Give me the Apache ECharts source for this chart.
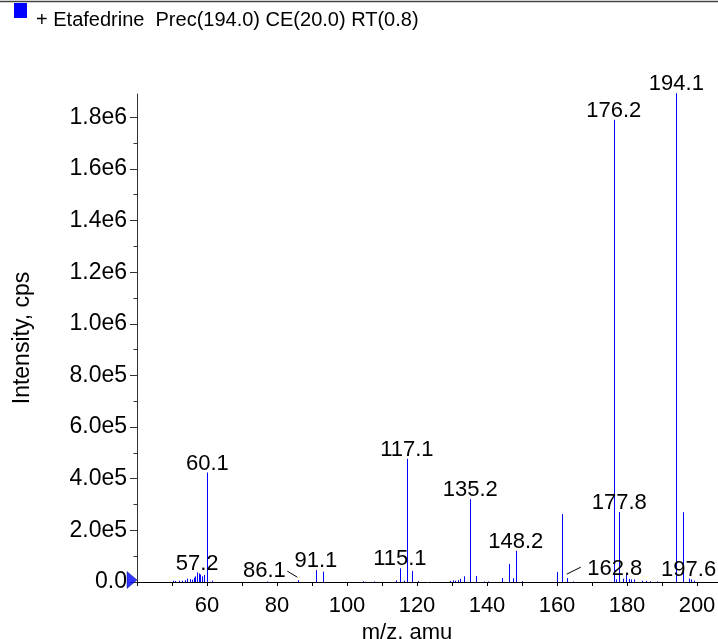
<!DOCTYPE html>
<html><head><meta charset="utf-8">
<script src="https://cdn.jsdelivr.net/npm/echarts@6/dist/echarts.min.js"></script>
<style>html,body{margin:0;padding:0;background:#fff}#c{width:718px;height:639px}</style>
</head><body><div id="c"></div>
<script>
const seriesName = '+ Etafedrine  Prec(194.0) CE(20.0) RT(0.8)';
const xTitle = 'm/z, amu';
const yTitle = 'Intensity, cps';

const mz = [50.4, 50.9, 51.9, 52.8, 53.7, 54.4, 55.1, 55.6, 56.2, 56.7, 57.2, 57.6, 58.1, 58.6, 59.1, 60.1, 61.3,
  77.1, 86.1, 91.1, 93.0, 104.7, 107.6, 114.1, 115.1, 116.3, 117.1, 118.5, 120.2,
  129.3, 130.2, 130.9, 131.7, 132.4, 133.3, 135.2, 136.9, 139.0, 140.2, 144.2, 146.3, 147.3, 148.2, 150.0,
  160.1, 161.3, 162.8, 164.5, 176.2, 176.9, 177.8, 178.9, 179.8, 180.5, 181.2, 181.9, 184.3, 185.5, 186.7, 188.5,
  194.1, 195.9, 197.6, 198.3, 199.0];
const intensity = [5e3, 4e3, 5e3, 5e3, 7e3, 1.3e4, 1.1e4, 9e3, 1.7e4, 2.2e4, 3.7e4, 3.3e4, 2.9e4, 2.2e4, 2.7e4, 4.24e5, 5e3,
  2e3, 7e3, 4.6e4, 4.0e4, 3e3, 2e3, 6e3, 5.3e4, 5e3, 4.77e5, 4.3e4, 3e3,
  4e3, 6e3, 5e3, 7e3, 1.2e4, 2.2e4, 3.21e5, 2.3e4, 2e3, 2e3, 1.5e4, 7.0e4, 1.4e4, 1.21e5, 3e3,
  3.9e4, 2.63e5, 1.5e4, 2e3, 1.79e6, 1e4, 2.71e5, 1.3e4, 3.0e4, 1.2e4, 1e4, 1e4, 5e3, 4e3, 3e3, 2e3,
  1.893e6, 2.70e5, 1.3e4, 1e4, 5e3];
const labeledMz = [57.2, 60.1, 86.1, 91.1, 115.1, 117.1, 135.2, 148.2, 162.8, 176.2, 177.8, 194.1, 197.6];

const xTickValues = [40, 50, 60, 70, 80, 90, 100, 110, 120, 130, 140, 150, 160, 170, 180, 190, 200];
const xLabelValues = [60, 80, 100, 120, 140, 160, 180, 200];
const yTickValues = [0, 2e5, 4e5, 6e5, 8e5, 1e6, 1.2e6, 1.4e6, 1.6e6, 1.8e6];
const yTickLabels = ['0.0', '2.0e5', '4.0e5', '6.0e5', '8.0e5', '1.0e6', '1.2e6', '1.4e6', '1.6e6', '1.8e6'];
const yMinorTickValues = [1e5, 3e5, 5e5, 7e5, 9e5, 1.1e6, 1.3e6, 1.5e6, 1.7e6];
const originMarker = [[40, 0]];

// label placement styles (pixel offsets relative to peak top)
const labelOffsets = {
  '86.1': {dx: -34, dy: 2, line: [-11, -9, -1, -3]},
  '162.8': {dx: 48, dy: 2, line: [0, -4, 14, -11]}
};

const FONT = '"Liberation Sans", Arial, Helvetica, sans-serif';
const BLUE = '#0000ff';
// legend square drawn in the upper half of a taller icon box
const LEGEND_ICON = 'path://M0,0L13,0L13,15L0,15Z M0,34L0.01,34L0.01,34.01Z';

const chart = echarts.init(document.getElementById('c'), null, {renderer: 'canvas'});
chart.setOption({
  animation: false,
  backgroundColor: '#fff',
  textStyle: {fontFamily: FONT},
  grid: {left: 137, right: 0, top: 94, bottom: 57, containLabel: false, outerBoundsMode: 'none'},
  legend: {
    data: [{name: seriesName, icon: LEGEND_ICON}],
    left: 14, top: 3, padding: 0, itemWidth: 13, itemHeight: 34, selectedMode: false,
    textStyle: {fontSize: 20, fontFamily: FONT, color: '#000', padding: [0, 0, 0, 4]}
  },
  graphic: [{type: 'line', shape: {x1: 0, y1: 1.5, x2: 718, y2: 1.5}, style: {stroke: '#444', lineWidth: 1.5}, silent: true}],
  xAxis: {
    type: 'value', min: 40, max: 206, interval: 10,
    axisLine: {lineStyle: {color: '#000', width: 1}},
    axisTick: {customValues: xTickValues, length: 4, lineStyle: {color: '#000'}},
    axisLabel: {customValues: xLabelValues, margin: 13, fontSize: 22, color: '#000', fontFamily: FONT},
    splitLine: {show: false},
    name: xTitle, nameLocation: 'middle', nameGap: 39,
    nameTextStyle: {fontSize: 22, color: '#000', fontFamily: FONT, padding: [0, 41, 0, 0]}
  },
  yAxis: [{
    type: 'value', min: 0, max: 1.89e6, interval: 2e5,
    axisLine: {show: true, lineStyle: {color: '#333', width: 1}},
    axisTick: {customValues: yTickValues, length: 7, lineStyle: {color: '#333'}},
    axisLabel: {customValues: yTickValues, margin: 10, fontSize: 23, color: '#000', fontFamily: FONT,
      formatter: v => { const i = yTickValues.indexOf(v); return i >= 0 ? yTickLabels[i] : ''; }},
    splitLine: {show: false},
    name: yTitle, nameLocation: 'middle', nameGap: 103, nameRotate: 90,
    nameTextStyle: {fontSize: 23, color: '#000', fontFamily: FONT}
  }, {
    type: 'value', min: 0, max: 1.89e6, interval: 2e5, position: 'left',
    axisLine: {show: false},
    axisTick: {show: true, customValues: yMinorTickValues, length: 3.5, lineStyle: {color: '#333'}},
    axisLabel: {show: false},
    splitLine: {show: false}
  }],
  series: [{
    type: 'custom', name: seriesName, yAxisIndex: 0,
    itemStyle: {color: BLUE},
    data: mz.map((m, i) => [m, intensity[i]]),
    renderItem: (params, api) => {
      const top = api.coord([api.value(0), api.value(1)]);
      const base = api.coord([api.value(0), 0]);
      const x = Math.round(top[0]) + 0.5;
      return {type: 'line', shape: {x1: x, y1: base[1], x2: x, y2: top[1]}, style: {stroke: BLUE, lineWidth: 1}};
    },
    silent: true, z: 2
  }, {
    type: 'custom', name: 'peakLabels', yAxisIndex: 0,
    data: labeledMz.map(m => [m, intensity[mz.indexOf(m)]]),
    renderItem: (params, api) => {
      const p = api.coord([api.value(0), api.value(1)]);
      const txt = api.value(0).toFixed(1);
      const off = labelOffsets[txt] || {dx: 0, dy: 2};
      const kids = [{type: 'text', style: {text: txt, x: p[0] + off.dx, y: p[1] + off.dy,
        textAlign: 'center', textVerticalAlign: 'bottom', font: '22px ' + FONT, fill: '#000'}}];
      if (off.line) kids.push({type: 'line', shape: {x1: p[0] + off.line[0], y1: p[1] + off.line[1],
        x2: p[0] + off.line[2], y2: p[1] + off.line[3]}, style: {stroke: '#000', lineWidth: 1}});
      return {type: 'group', children: kids};
    },
    clip: false, silent: true, z: 3
  }, {
    type: 'scatter', name: 'origin', data: originMarker, yAxisIndex: 0,
    symbol: 'triangle', symbolSize: [17, 10], symbolRotate: -90, symbolOffset: [-5, -2],
    itemStyle: {color: BLUE, borderColor: '#000066', borderWidth: 0.5},
    clip: false, silent: true, z: 5
  }]
});
</script></body></html>
